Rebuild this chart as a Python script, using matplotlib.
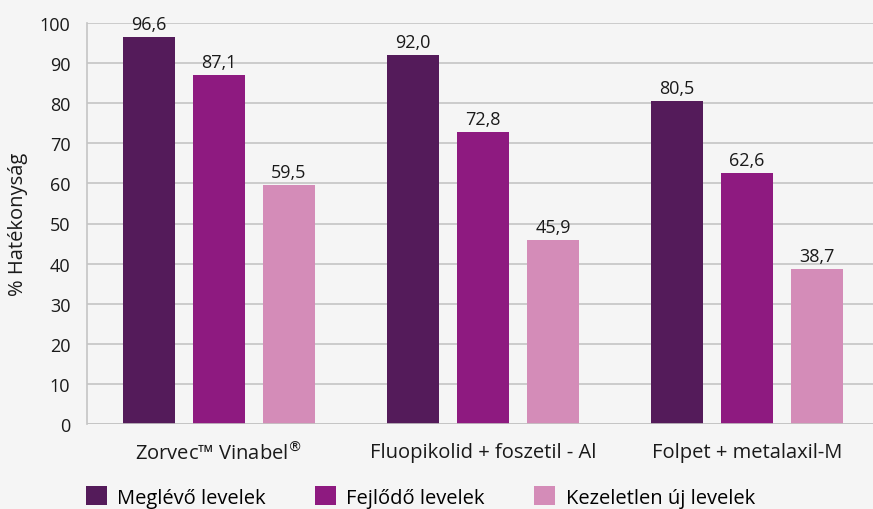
import matplotlib.pyplot as plt
import numpy as np

plt.rcParams['font.family'] = ['Open Sans', 'DejaVu Sans']

groups = ['Zorvec\u2122 Vinabel$^{\u00ae}$', 'Fluopikolid + foszetil - Al', 'Folpet + metalaxil-M']
series = ['Meglévő levelek', 'Fejlődő levelek', 'Kezeletlen új levelek']
meglevo = [96.6, 92.0, 80.5]
fejlodo = [87.1, 72.8, 62.6]
kezeletlen = [59.5, 45.9, 38.7]
colors = ['#541b5a', '#8e1a80', '#d48cb8']

bg = '#f5f5f5'
txt = '#1a1a1a'
fs = 13      # numbers
fs2 = 14.5   # words
fig = plt.figure(figsize=(8.73, 5.1), dpi=100, facecolor=bg)
ax = fig.add_axes([87 / 873, 85 / 510, 786 / 873, 401 / 510], facecolor=bg)

x = np.arange(len(groups))
w = 0.2
off = 0.265
handles = []
for i, (vals, c) in enumerate(zip([meglevo, fejlodo, kezeletlen], colors)):
    pos = x + (i - 1) * off
    b = ax.bar(pos, vals, width=w, color=c, zorder=3, label=series[i])
    handles.append(b)
    for p, v in zip(pos, vals):
        ax.text(p, v + 1.0, f'{v:.1f}'.replace('.', ','), ha='center', va='bottom',
                fontsize=fs, color=txt)

ax.set_xlim(-0.5, 2.5 - 6 / 264)
ax.set_ylim(0, 100)
ax.set_yticks(range(0, 101, 10))
ax.yaxis.grid(True, color='#c4c4c4', linewidth=1.2, zorder=0)
for s in ['top', 'right', 'bottom']:
    ax.spines[s].set_visible(False)
ax.spines['left'].set_color('#c4c4c4')
ax.spines['left'].set_linewidth(1.2)
ax.axhline(0, color='#c4c4c4', linewidth=1.2, zorder=4)
ax.tick_params(axis='y', length=0, pad=12, labelsize=fs, labelcolor=txt)
ax.tick_params(axis='x', length=0, pad=13, labelsize=fs2, labelcolor=txt)
ax.set_xticks(x)
ax.set_xticklabels(groups)
ax.set_ylabel('% Hatékonyság', fontsize=fs2, color=txt, labelpad=8)

fig.legend(handles=handles, labels=series, loc='lower left', bbox_to_anchor=(78 / 873, -0.013),
           borderaxespad=0, ncol=3, frameon=False, fontsize=fs2, handlelength=1.05,
           handleheight=1.05, columnspacing=2.45, handletextpad=0.5)

fig.savefig('out.png', dpi=100, facecolor=bg)
